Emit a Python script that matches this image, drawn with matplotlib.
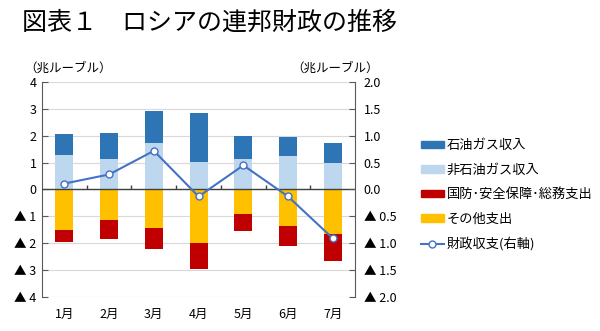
import numpy as np
import matplotlib
matplotlib.use('agg')
import matplotlib.pyplot as plt
from matplotlib.patches import Patch
from matplotlib.lines import Line2D

plt.rcParams['font.family'] = ['Noto Sans CJK JP', 'DejaVu Sans']

months = ['1月', '2月', '3月', '4月', '5月', '6月', '7月']
oil_gas = [0.78, 1.00, 1.19, 1.82, 0.86, 0.71, 0.78]      # 石油ガス収入
non_oil_gas = [1.30, 1.12, 1.75, 1.04, 1.12, 1.23, 0.97]  # 非石油ガス収入
defense = [-0.48, -0.71, -0.78, -0.97, -0.63, -0.73, -1.01]  # 国防・安全保障・総務支出
other = [-1.49, -1.15, -1.45, -2.00, -0.93, -1.37, -1.66]    # その他支出
balance = [0.11, 0.28, 0.72, -0.13, 0.45, -0.13, -0.91]      # 財政収支（右軸）

left_ticks = [4, 3, 2, 1, 0, -1, -2, -3, -4]
left_labels = ['4', '3', '2', '1', '0', '▲ 1', '▲ 2', '▲ 3', '▲ 4']
right_ticks = [2.0, 1.5, 1.0, 0.5, 0.0, -0.5, -1.0, -1.5, -2.0]
right_labels = ['2.0', '1.5', '1.0', '0.5', '0.0', '▲ 0.5', '▲ 1.0', '▲ 1.5', '▲ 2.0']

c_oil = '#2E75B6'
c_non = '#BDD7EE'
c_def = '#C00000'
c_oth = '#FFC000'
c_line = '#4472C4'

fig = plt.figure(figsize=(6.0, 3.31), dpi=100)
ax = fig.add_axes([0.07, 0.103, 0.522, 0.649])
x = np.arange(len(months))
w = 0.4

ax.bar(x, non_oil_gas, w, color=c_non, zorder=2)
ax.bar(x, oil_gas, w, bottom=non_oil_gas, color=c_oil, zorder=2)
ax.bar(x, other, w, color=c_oth, zorder=2)
ax.bar(x, defense, w, bottom=other, color=c_def, zorder=2)

ax.set_ylim(-4, 4)
ax.set_xlim(-0.5, len(months) - 0.5)
ax.set_yticks(left_ticks)
ax.set_yticklabels(left_labels, fontsize=9)
ax.yaxis.grid(True, color='#d9d9d9', lw=0.8, zorder=0)
ax.set_axisbelow(True)
ax.set_xticks(x)
ax.set_xticklabels(months, fontsize=9)
ax.tick_params(axis='x', length=0, pad=8)
ax.tick_params(axis='y', direction='in', length=4, color='#595959', pad=4)
for s in ['top', 'bottom', 'right']:
    ax.spines[s].set_visible(False)
ax.spines['left'].set_color('#595959')

# zero line with small category separators
ax.axhline(0, color='#404040', lw=1.0, zorder=3)
ax.vlines(x[:-1] + 0.5, 0, 0.15, color='#404040', lw=1.0, zorder=3)

ax2 = ax.twinx()
ax2.set_ylim(-2, 2)
ax2.set_yticks(right_ticks)
ax2.set_yticklabels(right_labels, fontsize=9)
ax2.tick_params(axis='y', direction='in', length=4, color='#595959', pad=6)
for s in ['top', 'bottom', 'left']:
    ax2.spines[s].set_visible(False)
ax2.spines['right'].set_color('#595959')
ax2.plot(x, balance, color=c_line, lw=1.5, marker='o', ms=5,
         mfc='white', mec=c_line, mew=1.0, zorder=5)

fig.text(0.037, 0.93, '図表１　ロシアの連邦財政の推移', fontsize=18, va='center', ha='left')
fig.text(0.04, 0.795, '（兆ルーブル）', fontsize=9, va='center', ha='left')
fig.text(0.485, 0.795, '（兆ルーブル）', fontsize=9, va='center', ha='left')

handles = [
    Patch(color=c_oil, label='石油ガス収入'),
    Patch(color=c_non, label='非石油ガス収入'),
    Patch(color=c_def, label='国防･安全保障･総務支出'),
    Patch(color=c_oth, label='その他支出'),
    Line2D([0], [0], color=c_line, lw=1.5, marker='o', ms=5, mfc='white',
           mec=c_line, label='財政収支(右軸)'),
]
fig.legend(handles=handles, loc='upper left', bbox_to_anchor=(0.69, 0.6),
           frameon=False, fontsize=9.5, handlelength=1.8, handleheight=0.5,
           handletextpad=0.2, labelspacing=0.87, borderpad=0)

fig.savefig('out.png', dpi=100)
